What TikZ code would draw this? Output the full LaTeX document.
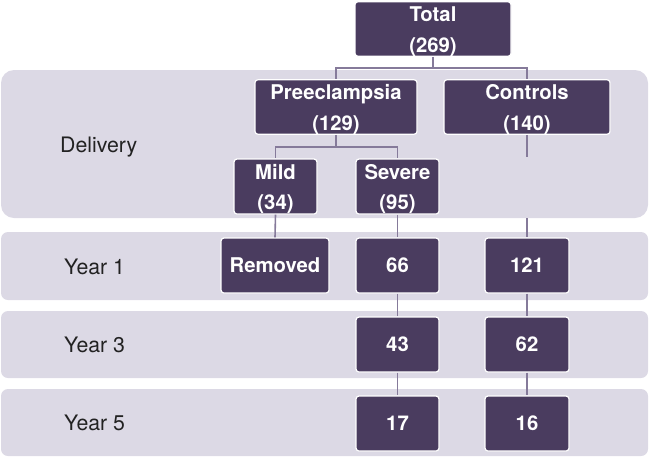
\documentclass[tikz,border=0pt]{standalone}
\usepackage{fontspec}
\setmainfont{TeX Gyre Heros}
\definecolor{boxfill}{HTML}{4A3C5F}
\definecolor{panelfill}{HTML}{DCD9E5}
\definecolor{linkcol}{HTML}{857A9A}
\definecolor{labcol}{HTML}{222222}
\newcommand{\twolines}[2]{\rule{0pt}{20pt}#1\\#2}
\begin{document}
\begin{tikzpicture}[x=1pt,y=-1pt,
  panel/.style={fill=panelfill,draw=none},
  databox/.style={rectangle,rounded corners=3pt,fill=boxfill,draw=white,line width=1.2pt,
    text=white,font=\fontsize{20.3}{30.5}\selectfont\bfseries,align=center,inner sep=0pt},
  link/.style={draw=linkcol,line width=1.6pt},
  rowlabel/.style={anchor=base west,text=labcol,font=\fontsize{21.3}{25}\selectfont,inner sep=0pt}]
\useasboundingbox (0,0) rectangle (650,459);
% panels
\fill[panel,rounded corners=13pt] (1,70) rectangle (648,218);
\fill[panel,rounded corners=7pt] (1,232) rectangle (648,300);
\fill[panel,rounded corners=7pt] (1,311) rectangle (648,378);
\fill[panel,rounded corners=7pt] (1,389) rectangle (648,456);
% row labels
\node[rowlabel] (ldel) at (60,152.5) {Delivery};
\node[rowlabel] (ly1) at (64,274) {Year 1};
\node[rowlabel] (ly3) at (64,352.5) {Year 3};
\node[rowlabel] (ly5) at (64,430.5) {Year 5};
% boxes
\node[databox,minimum width=156pt,minimum height=53pt] (total) at (433,29) {\twolines{Total}{(269)}};
\node[databox,minimum width=162pt,minimum height=54pt] (pre) at (336,107) {\twolines{Preeclampsia}{(129)}};
\node[databox,minimum width=166pt,minimum height=54pt] (ctrl) at (527,107) {\twolines{Controls}{(140)}};
\node[databox,minimum width=83pt,minimum height=55pt] (mild) at (275.5,186.5) {\twolines{Mild}{(34)}};
\node[databox,minimum width=83pt,minimum height=55pt] (severe) at (397.5,186.5) {\twolines{Severe}{(95)}};
\node[databox,minimum width=108pt,minimum height=55pt] (removed) at (275,265.5) {Removed};
\node[databox,minimum width=83pt,minimum height=55pt] (n66) at (397.5,265.5) {66};
\node[databox,minimum width=84pt,minimum height=55pt] (n121) at (527,265.5) {121};
\node[databox,minimum width=83pt,minimum height=55pt] (n43) at (397.5,344.5) {43};
\node[databox,minimum width=84pt,minimum height=55pt] (n62) at (527,344.5) {62};
\node[databox,minimum width=83pt,minimum height=55pt] (n17) at (397.5,423.5) {17};
\node[databox,minimum width=84pt,minimum height=55pt] (n16) at (527,423.5) {16};
% junctions
\coordinate (j1) at (433,68);
\coordinate (j2) at (336,147);
\coordinate (c1) at (527,157);
\coordinate (c2) at (527,218);
% connectors
\draw[link] (total.south) -- (j1) -| (pre.north);
\draw[link] (j1) -| (ctrl.north);
\draw[link] (pre.south) -- (j2) -| (mild.north);
\draw[link] (j2) -| (severe.north);
\draw[link] (ctrl.south) -- (c1);
\draw[link] (c2) -- (n121.north);
\draw[link] (mild.south) -- (removed.north);
\draw[link] (severe.south) -- (n66.north);
\draw[link] (n66.south) -- (n43.north);
\draw[link] (n43.south) -- (n17.north);
\draw[link] (n121.south) -- (n62.north);
\draw[link] (n62.south) -- (n16.north);
\end{tikzpicture}
\end{document}
